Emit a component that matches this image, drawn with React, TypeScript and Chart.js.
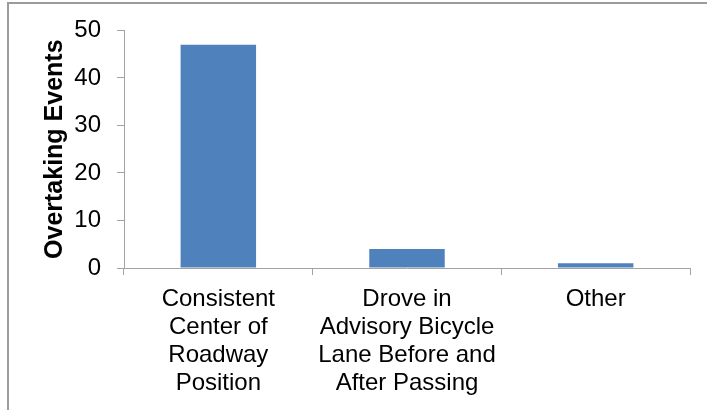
import React, { useEffect, useRef } from "react";
import { Chart, registerables } from "chart.js";

Chart.register(...registerables);

const categories: string[][] = [
  ["Consistent", "Center of", "Roadway", "Position"],
  ["Drove in", "Advisory Bicycle", "Lane Before and", "After Passing"],
  ["Other"],
];
const overtakingEvents: number[] = [47, 4, 1];
const yTicks = { min: 0, max: 50, step: 10 };
const yTitle = "Overtaking Events";

const FONT = "'Liberation Sans', Arial, sans-serif";
const AXIS = "#a3a3a3";

export default function App() {
  const ref = useRef<HTMLCanvasElement | null>(null);

  useEffect(() => {
    if (!ref.current) return;
    const chart = new Chart(ref.current, {
      type: "bar",
      data: {
        labels: categories,
        datasets: [
          {
            data: overtakingEvents,
            backgroundColor: "#4F81BD",
            borderColor: "#4A7EBB",
            borderWidth: 0,
            categoryPercentage: 1,
            barPercentage: 0.4,
          },
        ],
      },
      options: {
        responsive: false,
        animation: false,
        devicePixelRatio: 1,
        layout: { padding: { left: 0, right: 17, top: 29, bottom: 0 } },
        plugins: { legend: { display: false }, tooltip: { enabled: false }, title: { display: false } },
        scales: {
          x: {
            grid: { display: true, drawOnChartArea: false, drawTicks: true, tickLength: 7, color: AXIS, offset: true },
            border: { display: true, color: AXIS, width: 1 },
            ticks: {
              color: "#000",
              font: { family: FONT, size: 24, lineHeight: 28 / 24 },
              padding: 10,
              maxRotation: 0,
              minRotation: 0,
              autoSkip: false,
            },
            afterFit: (s: any) => {
              s.height = 142;
            },
          },
          y: {
            min: yTicks.min,
            max: yTicks.max,
            grid: { display: true, drawOnChartArea: false, drawTicks: true, tickLength: 7, color: AXIS },
            border: { display: true, color: AXIS, width: 1 },
            ticks: {
              stepSize: yTicks.step,
              color: "#000",
              font: { family: FONT, size: 24 },
              padding: 16,
            },
            title: {
              display: true,
              text: yTitle,
              color: "#000",
              font: { family: FONT, size: 25, weight: "bold", lineHeight: 1.2 },
              padding: { top: 40, bottom: 0 },
            },
            afterFit: (s: any) => {
              s.width = 124;
            },
          },
        },
      },
    });
    return () => chart.destroy();
  }, []);

  return (
    <div style={{ position: "fixed", left: 0, top: 0, width: 707, height: 410, overflow: "hidden", background: "#fff" }}>
      <div
        style={{
          position: "absolute",
          left: 7,
          top: 2,
          width: 720,
          height: 406,
          borderTop: "2px solid #9c9c9c",
          borderLeft: "2px solid #9c9c9c",
          borderBottom: "1px solid #dcdcdc",
        }}
      />
      <canvas ref={ref} width={707} height={410} style={{ position: "absolute", left: 0, top: 0, width: 707, height: 410 }} />
    </div>
  );
}
